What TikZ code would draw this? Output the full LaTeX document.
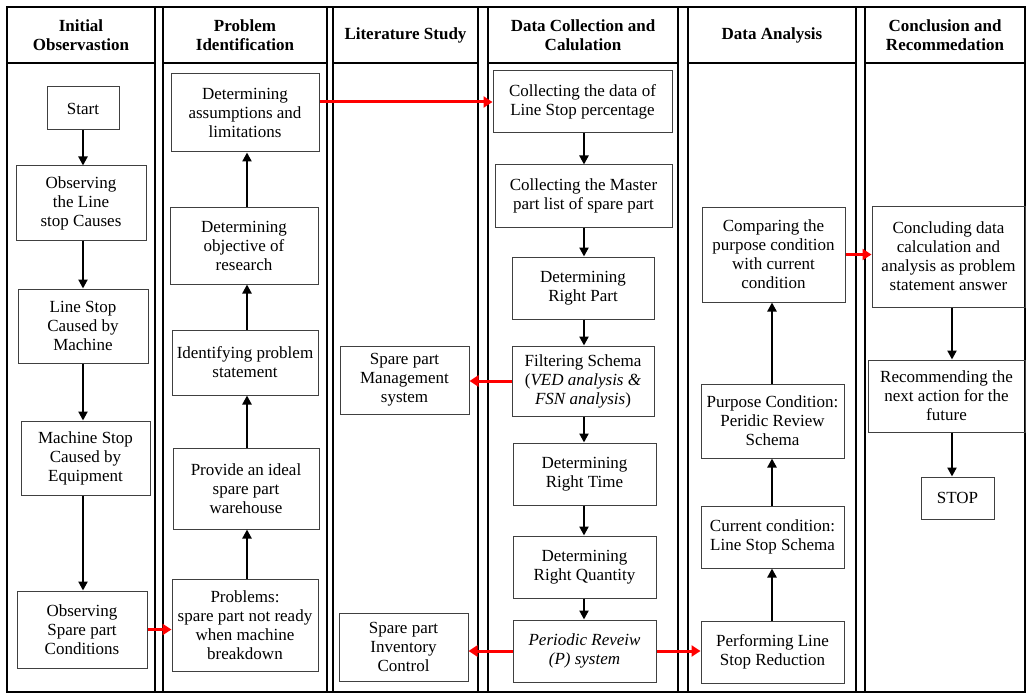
\documentclass[tikz,border=0pt]{standalone}
\usepackage{fontspec}
\setmainfont{Liberation Serif}
\usetikzlibrary{arrows.meta}
\begin{document}
\begin{tikzpicture}[x=1pt,y=-1pt,
  box/.style={draw=black!75, line width=1pt, align=center, inner sep=1pt,
    font=\fontsize{17}{19}\selectfont},
  colframe/.style={draw=black, line width=2pt},
  hdr/.style={align=center, font=\bfseries\fontsize{17}{19}\selectfont},
  blkarrow/.style={draw=black, line width=2.2pt, -{Triangle[length=9pt,width=9pt]}},
  redarrow/.style={draw=red, line width=3pt, -{Triangle[length=9pt,width=11pt]}}
]
\useasboundingbox (0,0) rectangle (1030,695);
\fill[white] (0,0) rectangle (1030,695);
% frame
\draw[colframe] (7,7) rectangle (1025,692);
\foreach \a/\b in {7/155,163/327,333/478,488/678,688/856,865/1025}{
  \draw[colframe] (\a,7) rectangle (\b,692);
  \draw[colframe] (\a,63) -- (\b,63);
}
% headers
\node[hdr] (h1) at (81,35) {Initial\\Observastion};
\node[hdr] (h2) at (245,35) {Problem\\Identification};
\node[hdr] (h3) at (405.5,35) {Literature Study};
\node[hdr] (h4) at (583,35) {Data Collection and\\Calulation};
\node[hdr] (h5) at (772,35) {Data Analysis};
\node[hdr] (h6) at (945,35) {Conclusion and\\Recommedation};
% column 1
\node[box, minimum width=72, minimum height=43] (start) at (83,108.5) {Start};
\node[box, minimum width=130, minimum height=74] (obs) at (81,203) {Observing\\the Line\\stop Causes};
\node[box, minimum width=130, minimum height=74] (lsm) at (83,326) {Line Stop\\Caused by\\Machine};
\node[box, minimum width=129, minimum height=74] (mse) at (85.5,458) {Machine Stop\\Caused by\\Equipment};
\node[box, minimum width=130, minimum height=77] (osp) at (82,629.5) {Observing\\Spare part\\Conditions};
% column 2
\node[box, minimum width=148, minimum height=78] (asm) at (245,113) {Determining\\assumptions and\\limitations};
\node[box, minimum width=148, minimum height=77] (obj) at (244,245.5) {Determining\\objective of\\research};
\node[box, minimum width=146, minimum height=65] (idp) at (245,362.5) {Identifying problem\\statement};
\node[box, minimum width=146, minimum height=81] (ideal) at (246,488.5) {Provide an ideal\\spare part\\warehouse};
\node[box, minimum width=146, minimum height=92] (prob) at (245,625) {Problems:\\spare part not ready\\when machine\\breakdown};
% column 3
\node[box, minimum width=129, minimum height=68] (spm) at (404.5,380) {Spare part\\Management\\system};
\node[box, minimum width=129, minimum height=68] (spi) at (403.5,647) {Spare part\\Inventory\\Control};
% column 4
\node[box, minimum width=179, minimum height=62] (cd) at (582.5,102) {Collecting the data of\\Line Stop percentage};
\node[box, minimum width=177, minimum height=62] (cm) at (583.5,196) {Collecting the Master\\part list of spare part};
\node[box, minimum width=142, minimum height=62] (rp) at (583,288) {Determining\\Right Part};
\node[box, minimum width=142, minimum height=70] (fs) at (583,381) {Filtering Schema\\(\textit{VED analysis \&}\\\textit{FSN analysis})};
\node[box, minimum width=143, minimum height=62] (rt) at (584.5,474) {Determining\\Right Time};
\node[box, minimum width=143, minimum height=62] (rq) at (584.5,567) {Determining\\Right Quantity};
\node[box, minimum width=143, minimum height=62] (pr) at (584.5,651) {\textit{Periodic Reveiw}\\\textit{(P) system}};
% column 5
\node[box, minimum width=143, minimum height=95] (cmp) at (773.5,254.5) {Comparing the\\purpose condition\\with current\\condition};
\node[box, minimum width=143, minimum height=74] (pc) at (772.5,421) {Purpose Condition:\\Peridic Review\\Schema};
\node[box, minimum width=143, minimum height=62] (cc) at (772.5,537) {Current condition:\\Line Stop Schema};
\node[box, minimum width=143, minimum height=62] (pl) at (772.5,652) {Performing Line\\Stop Reduction};
% column 6
\node[box, minimum width=153, minimum height=101] (conc) at (948.5,256.5) {Concluding data\\calculation and\\analysis as problem\\statement answer};
\node[box, minimum width=157, minimum height=72] (rec) at (946.5,396) {Recommending the\\next action for the\\future};
\node[box, minimum width=73, minimum height=42] (stop) at (957.5,498) {STOP};
% black arrows column 1
\draw[blkarrow] (start.south) -- (start.south |- obs.north);
\draw[blkarrow] (start.south |- obs.south) -- (start.south |- lsm.north);
\draw[blkarrow] (start.south |- lsm.south) -- (start.south |- mse.north);
\draw[blkarrow] (start.south |- mse.south) -- (start.south |- osp.north);
% column 2 (upwards)
\coordinate (c2) at (247,0);
\draw[blkarrow] (c2 |- prob.north) -- (c2 |- ideal.south);
\draw[blkarrow] (c2 |- ideal.north) -- (c2 |- idp.south);
\draw[blkarrow] (c2 |- idp.north) -- (c2 |- obj.south);
\draw[blkarrow] (c2 |- obj.north) -- (c2 |- asm.south);
% column 4 (downwards)
\coordinate (c4) at (584,0);
\draw[blkarrow] (c4 |- cd.south) -- (c4 |- cm.north);
\draw[blkarrow] (c4 |- cm.south) -- (c4 |- rp.north);
\draw[blkarrow] (c4 |- rp.south) -- (c4 |- fs.north);
\draw[blkarrow] (c4 |- fs.south) -- (c4 |- rt.north);
\draw[blkarrow] (c4 |- rt.south) -- (c4 |- rq.north);
\draw[blkarrow] (c4 |- rq.south) -- (c4 |- pr.north);
% column 5 (upwards)
\coordinate (c5) at (772,0);
\draw[blkarrow] (c5 |- pl.north) -- (c5 |- cc.south);
\draw[blkarrow] (c5 |- cc.north) -- (c5 |- pc.south);
\draw[blkarrow] (c5 |- pc.north) -- (c5 |- cmp.south);
% column 6 (downwards)
\coordinate (c6) at (952,0);
\draw[blkarrow] (c6 |- conc.south) -- (c6 |- rec.north);
\draw[blkarrow] (c6 |- rec.south) -- (c6 |- stop.north);
% red arrows
\draw[redarrow] (osp.east) -- (osp.east -| prob.west);
\draw[redarrow] (asm.east |- cd.west) -- (cd.west);
\draw[redarrow] (fs.west) -- (fs.west -| spm.east);
\draw[redarrow] (pr.west) -- (pr.west -| spi.east);
\draw[redarrow] (pr.east) -- (pr.east -| pl.west);
\draw[redarrow] (cmp.east) -- (cmp.east -| conc.west);
\end{tikzpicture}
\end{document}
